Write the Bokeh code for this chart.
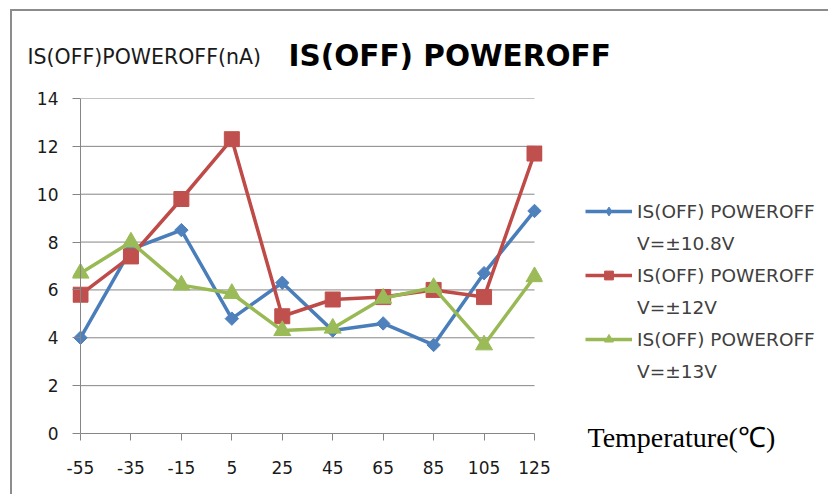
import numpy as np
from bokeh.plotting import figure
from bokeh.models import Range1d, FixedTicker, Legend, LegendItem, Label, Span
from bokeh.embed import file_html
from bokeh.resources import INLINE

# ---- data ----
temps = [-55, -35, -15, 5, 25, 45, 65, 85, 105, 125]
v10_8 = [4.0, 7.7, 8.5, 4.8, 6.3, 4.3, 4.6, 3.7, 6.7, 9.3]
v12 = [5.8, 7.4, 9.8, 12.3, 4.9, 5.6, 5.7, 6.0, 5.7, 11.7]
v13 = [6.7, 8.0, 6.2, 5.85, 4.3, 4.4, 5.65, 6.1, 3.7, 6.55]
y_ticks = [0, 2, 4, 6, 8, 10, 12, 14]
series_name = "IS(OFF) POWEROFF"
series_volts = ["V=\u00b110.8V", "V=\u00b112V", "V=\u00b113V"]
title_text = "IS(OFF) POWEROFF"
y_title = "IS(OFF)POWEROFF(nA)"
x_title = "Temperature(\u2103)"

# ---- layout (page pixels) ----
W, H = 828, 494
FL, FR, FT, FB = 72, 542, 98, 433          # frame edges
frame_w = FR - FL
frame_h = FB - FT
PAD = 8 * (temps[-1] - temps[0]) / (frame_w - 16)

p = figure(frame_width=frame_w, frame_height=frame_h, title=None,
           x_range=Range1d(temps[0] - PAD, temps[-1] + PAD),
           y_range=Range1d(y_ticks[0], y_ticks[-1]),
           output_backend="svg", toolbar_location=None,
           min_border_left=FL, min_border_right=W - FR,
           min_border_top=FT, min_border_bottom=H - FB)
p.background_fill_color = None
p.border_fill_color = None
p.outline_line_color = None
p.xgrid.visible = False
p.ygrid.visible = False
p.styles = {"box-shadow": "inset 10px 9px 0 0 #ffffff, inset 12px 11px 0 0 #8c8c8c"}

GRID = "#868686"
p.segment(x0=[temps[0]] * (len(y_ticks) - 1), x1=[temps[-1]] * (len(y_ticks) - 1),
          y0=y_ticks[1:], y1=y_ticks[1:], line_color=GRID, line_width=1)
p.add_layout(Span(location=temps[0], dimension="height", line_color=GRID, line_width=1))

xa = p.xaxis[0]
xa.ticker = FixedTicker(ticks=temps)
xa.major_label_overrides = {t: str(t) for t in temps}
xa.bounds = (temps[0], temps[-1])
xa.major_tick_out = 7
xa.major_tick_in = 0
xa.minor_tick_line_color = None
xa.axis_line_color = GRID
xa.major_tick_line_color = GRID
xa.major_label_standoff = 20
xa.major_label_text_font = "DejaVu Sans"
xa.major_label_text_font_size = "17px"
xa.major_label_text_color = "#1a1a1a"

ya = p.yaxis[0]
ya.ticker = FixedTicker(ticks=y_ticks)
ya.major_tick_out = 0
ya.major_tick_in = 8
ya.minor_tick_line_color = None
ya.axis_line_color = None
ya.major_tick_line_color = GRID
ya.major_label_standoff = 14
ya.major_label_text_font = "DejaVu Sans"
ya.major_label_text_font_size = "17px"
ya.major_label_text_color = "#1a1a1a"

series = [
    (v10_8, "#4A7EBB", "#4F81BD", dict(marker="square", angle=np.pi / 4, size=9.5), "diamond"),
    (v12, "#BE4B48", "#C0504D", dict(marker="square", size=15), "square"),
    (v13, "#98B954", "#9BBB59", dict(marker="triangle", size=17), "triangle"),
]

px_x = frame_w / (temps[-1] - temps[0] + 2 * PAD)
px_y = frame_h / (y_ticks[-1] - y_ticks[0])

def dx(sx):
    return temps[0] - PAD + (sx - FL) / px_x

def dy(sy):
    return (FB - sy) / px_y

items = []
for (vals, lc, fc, mk, leg_marker), volts in zip(series, series_volts):
    lr = p.line(temps, vals, line_color=lc, line_width=3.5, line_join="round")
    p.scatter(temps, vals, fill_color=fc, line_color=fc, line_width=1, **mk)
    # legend-only marker (same data, not drawn in the plot)
    leg_mk = p.scatter(temps, vals, marker=leg_marker, size=12,
                       fill_color=fc, line_color=fc, visible=False)
    dummy = p.line(x=[], y=[], line_alpha=0)
    items.append(LegendItem(label=series_name, renderers=[lr, leg_mk]))
    items.append(LegendItem(label=volts, renderers=[dummy]))

ITEM_H, ITEM_GAP = 22, 10
leg_top = 211 - ITEM_H / 2
leg_h = len(items) * ITEM_H + (len(items) - 1) * ITEM_GAP
lg = Legend(items=items, location=(585 - FR, FB - (leg_top + leg_h)),
            padding=0, margin=0, spacing=ITEM_GAP,
            glyph_width=47, glyph_height=ITEM_H, label_height=ITEM_H, label_standoff=5,
            background_fill_alpha=0, border_line_color=None,
            label_text_font="DejaVu Sans", label_text_font_size="18.5px",
            label_text_color="#404040")
p.add_layout(lg, "right")

p.add_layout(Label(x=dx(288), y=dy(55), text=title_text, text_font="DejaVu Sans",
                   text_font_style="bold", text_font_size="29.5px", text_color="#000000",
                   text_align="left", text_baseline="alphabetic"), "above")
p.add_layout(Label(x=dx(27), y=dy(56), text=y_title, text_font="DejaVu Sans",
                   text_font_size="20.5px", text_color="#1a1a1a",
                   text_align="left", text_baseline="alphabetic"), "above")
p.add_layout(Label(x=dx(587), y=dy(437), text=x_title, text_font="Liberation Serif",
                   text_font_size="28px", text_color="#000000",
                   text_align="left", text_baseline="alphabetic"), "above")

open("out.html", "w").write(file_html(p, INLINE))
